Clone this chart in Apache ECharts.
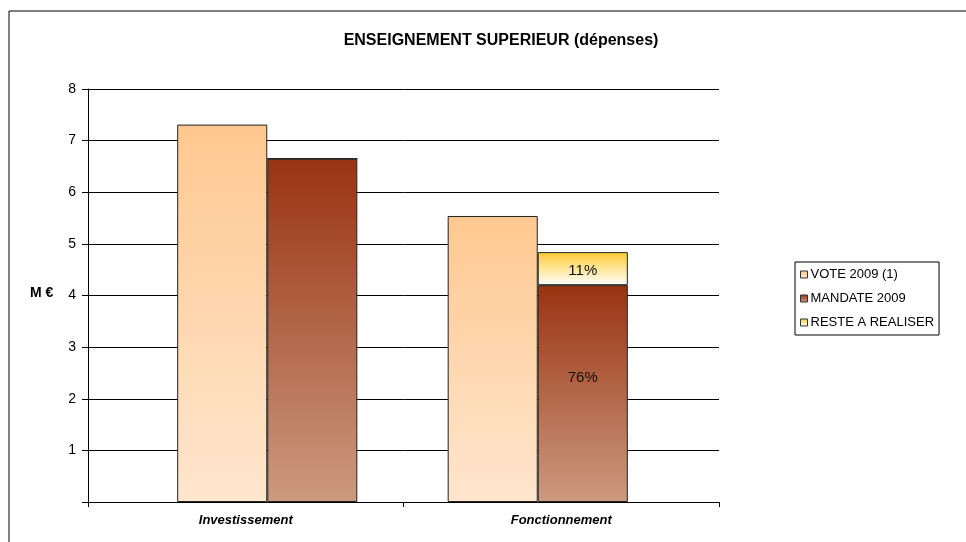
<!DOCTYPE html>
<html>
<head>
<meta charset="utf-8">
<script src="https://cdn.jsdelivr.net/npm/echarts@6/dist/echarts.min.js"></script>
<style>html,body{margin:0;padding:0;background:#fff}#c{width:966px;height:542px}</style>
</head>
<body>
<div id="c"></div>
<script>
var categories = ['Investissement', 'Fonctionnement'];
var vote2009 = [7.31, 5.54];
var mandate2009 = [6.65, 4.20];
var resteARealiser = [0, 0.64];
var mandateLabels = ['', '76%'];
var resteLabels = ['', '11%'];
var yTicks = [0, 1, 2, 3, 4, 5, 6, 7, 8];

var FONT = '"Liberation Sans", Arial, sans-serif';
function grad(top, bottom) {
  return new echarts.graphic.LinearGradient(0, 0, 0, 1, [
    {offset: 0, color: top}, {offset: 1, color: bottom}
  ]);
}
var yMin = yTicks[0], yMax = yTicks[yTicks.length - 1];
var chart = echarts.init(document.getElementById('c'));
chart.setOption({
  animation: false,
  backgroundColor: '#fff',
  title: {
    text: 'ENSEIGNEMENT SUPERIEUR (dépenses)',
    left: 496, top: 28, textAlign: 'center',
    textStyle: {fontFamily: FONT, fontSize: 16, fontWeight: 'bold', color: '#000'}
  },
  graphic: [
    {type: 'rect', shape: {x: 9, y: 11, width: 1000, height: 600},
     style: {fill: 'none', stroke: '#000', lineWidth: 1}, silent: true, z: -1},
    {type: 'text', left: 30, top: 286,
     style: {text: 'M €', font: 'bold 14px ' + FONT, fill: '#000'}}
  ],
  legend: {
    orient: 'vertical',
    left: 795, top: 262,
    padding: [6, 5, 6, 5],
    itemGap: 11,
    itemWidth: 7, itemHeight: 7,
    borderColor: '#000', borderWidth: 1,
    icon: 'rect',
    itemStyle: {borderColor: '#333', borderWidth: 1},
    textStyle: {fontFamily: FONT, fontSize: 13, color: '#000', padding: [0, 0, 0, -2]},
    data: ['VOTE 2009 (1)', 'MANDATE 2009', 'RESTE A REALISER']
  },
  grid: [
    {left: 88, right: 247, top: 89, bottom: 40},
    {left: 132, right: 293, top: 89, bottom: 40}
  ],
  xAxis: [
    {
      type: 'category', gridIndex: 0,
      data: categories,
      axisLine: {lineStyle: {color: '#000'}},
      axisTick: {show: true, alignWithLabel: false, length: 5, lineStyle: {color: '#000'}},
      axisLabel: {fontFamily: FONT, fontSize: 13, fontWeight: 'bold', fontStyle: 'italic', color: '#000', margin: 12},
      splitLine: {show: false}
    },
    {
      type: 'category', gridIndex: 1, data: categories, show: false
    }
  ],
  yAxis: [
    {
      type: 'value', gridIndex: 0,
      min: yMin, max: yMax, interval: 1,
      axisLine: {show: true, lineStyle: {color: '#000'}},
      axisTick: {show: true, length: 6, lineStyle: {color: '#000'}},
      axisLabel: {fontFamily: FONT, fontSize: 14, color: '#000', margin: 12,
        formatter: function (v) { return v === 0 ? '' : v; }},
      splitLine: {show: true, lineStyle: {color: '#000', width: 1}}
    },
    {
      type: 'value', gridIndex: 1, min: yMin, max: yMax, interval: 1, show: false,
      splitLine: {show: false}
    }
  ],
  series: [
    {
      name: 'VOTE 2009 (1)', type: 'bar', stack: 'v', data: vote2009,
      xAxisIndex: 1, yAxisIndex: 1,
      barWidth: '33.3%', barGap: '0%',
      itemStyle: {color: grad('#FFC890', '#FFE6CE'), borderColor: '#222', borderWidth: 1}
    },
    {
      name: 'MANDATE 2009', type: 'bar', stack: 'm', data: mandate2009,
      xAxisIndex: 1, yAxisIndex: 1,
      barWidth: '33.3%', barGap: '0%',
      itemStyle: {color: grad('#993311', '#CC9A80'), borderColor: '#222', borderWidth: 1},
      label: {show: true, position: 'inside', offset: [0, -16],
        fontFamily: FONT, fontSize: 15, color: '#111',
        formatter: function (p) { return mandateLabels[p.dataIndex]; }}
    },
    {
      name: 'RESTE A REALISER', type: 'bar', stack: 'm', data: resteARealiser,
      xAxisIndex: 1, yAxisIndex: 1,
      barWidth: '33.3%', barGap: '0%',
      itemStyle: {color: grad('#FFCC33', '#FFFFFF'), borderColor: '#222', borderWidth: 1},
      label: {show: true, position: 'inside', offset: [0, 2],
        fontFamily: FONT, fontSize: 15, color: '#111',
        formatter: function (p) { return resteLabels[p.dataIndex]; }}
    }
  ]
});
</script>
</body>
</html>
